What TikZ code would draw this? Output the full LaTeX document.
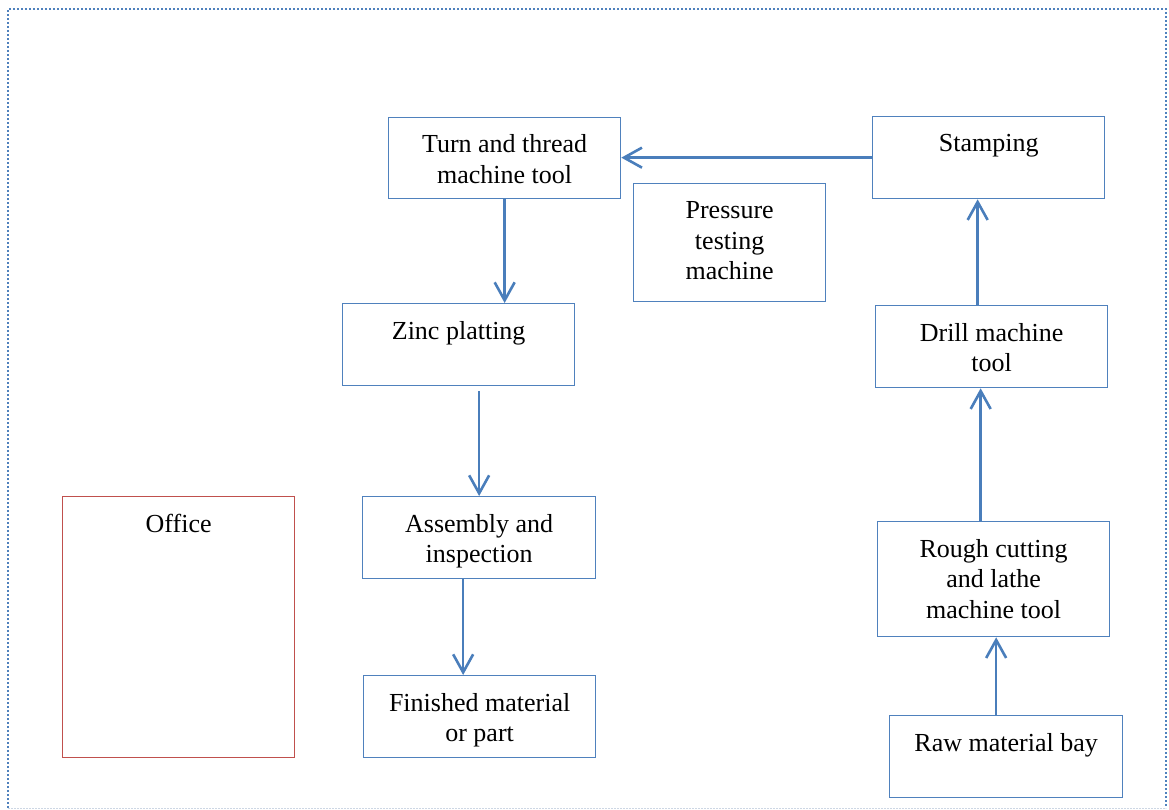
\documentclass[tikz,border=0pt]{standalone}
\usepackage{fontspec}
\setmainfont{Liberation Serif}
\usetikzlibrary{arrows.meta}

\definecolor{boxblue}{RGB}{79,129,189}
\definecolor{arrowblue}{RGB}{74,126,187}
\definecolor{officered}{RGB}{192,80,77}
\definecolor{framegray}{RGB}{205,215,228}

% Text block of a station: fixed size, lines centred, set from the top
\newcommand{\stationtext}[3]{%
  \parbox[c][#2pt][t]{#1pt}{\centering\vspace*{14pt}\strut #3\par}}

\tikzset{
  station/.style={draw=boxblue, line width=1.3pt, inner sep=0pt,
                  anchor=north west, font=\fontsize{26}{30.5}\selectfont},
  officebox/.style={station, draw=officered},
  flow/.style={draw=arrowblue, line width=2.6pt,
               -{Straight Barb[length=18pt,width=20pt,line width=2.6pt]}},
  frame/.style={draw=boxblue, line width=2pt,
                dash pattern=on 2pt off 2pt}
}

\begin{document}
\begin{tikzpicture}[x=1pt, y=-1pt]
  \useasboundingbox (0,0) rectangle (1169,810);

  % page frame
  \draw[frame] (8,808) -- (8,9) -- (1166,9) -- (1166,808);
  \draw[draw=framegray, line width=1pt, dash pattern=on 1.5pt off 1.5pt]
    (8,808) -- (1166,808);

  % stations
  \node[station] (turn)  at (388,117) {\stationtext{232}{81}{Turn and thread\\machine tool}};
  \node[station] (stamp) at (872,116) {\stationtext{232}{82}{Stamping}};
  \node[station] (press) at (633,183) {\stationtext{192}{118}{Pressure\\testing\\machine}};
  \node[station] (zinc)  at (342,303) {\stationtext{232}{82}{Zinc platting}};
  \node[station] (drill) at (875,305) {\stationtext{232}{82}{Drill machine\\tool}};
  \node[officebox] (office) at (62,496) {\stationtext{232}{261}{Office}};
  \node[station] (asm)   at (362,496) {\stationtext{233}{82}{Assembly and\\inspection}};
  \node[station] (rough) at (877,521) {\stationtext{232}{115}{Rough cutting\\and lathe\\machine tool}};
  \node[station] (fin)   at (363,675) {\stationtext{232}{82}{Finished material\\or part}};
  \node[station] (raw)   at (889,715) {\stationtext{233}{82}{Raw material bay}};

  % material flow
  \draw[flow] ([xshift=-10pt]raw.north) -- ([xshift=-10pt]raw.north |- rough.south);
  \draw[flow] ([xshift=-13pt]rough.north) -- ([xshift=-13pt]rough.north |- drill.south);
  \draw[flow] ([xshift=-14pt]drill.north) -- ([xshift=-14pt]drill.north |- stamp.south);
  \draw[flow] (stamp.west) -- (stamp.west -| turn.east);
  \draw[flow] (turn.south) -- (turn.south |- zinc.north);
  \draw[flow] ([yshift=-5pt]zinc.south -| asm.north) -- (asm.north);
  \draw[flow] ([xshift=-16pt]asm.south) -- ([xshift=-16pt]asm.south |- fin.north);
\end{tikzpicture}
\end{document}
